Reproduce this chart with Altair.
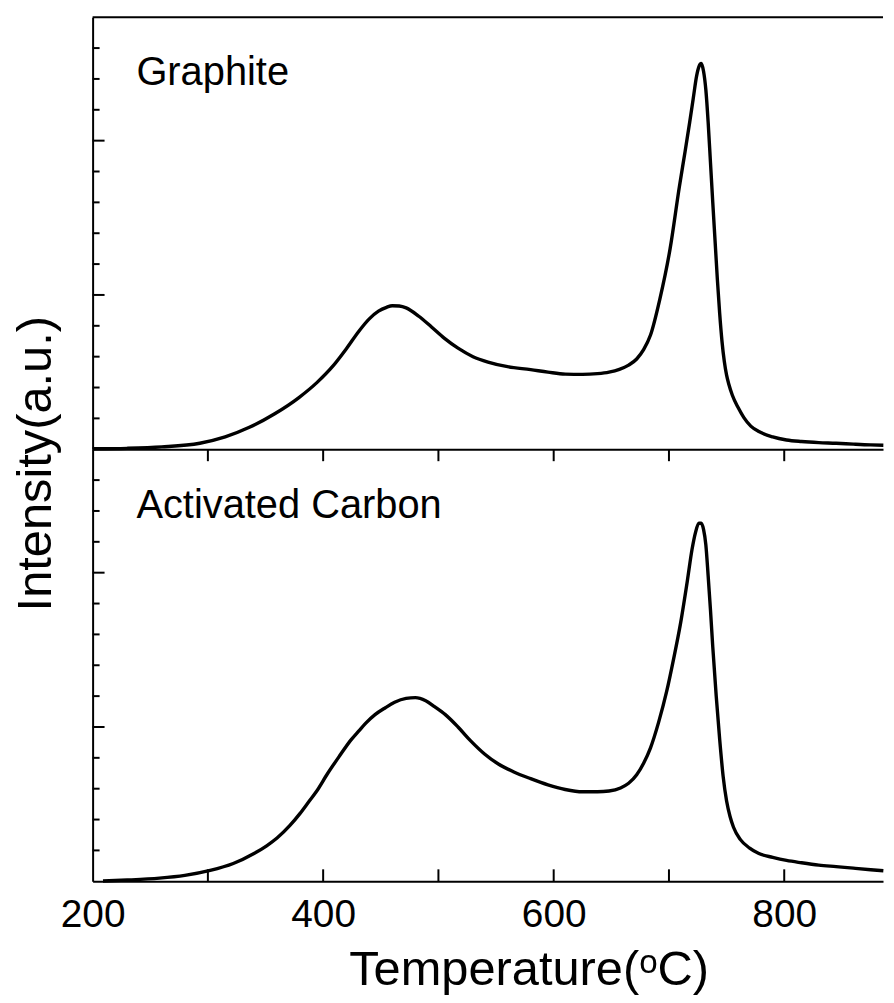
import altair as alt
import pandas as pd

# ---------------- data ----------------
T_GRAPHITE = [200, 230, 260, 293, 315, 336, 358, 379, 395, 408, 420, 431, 440, 448, 455,
              460, 466, 472, 483, 494, 505, 517, 530, 543, 560, 580, 595, 610, 625, 638,
              648, 657, 665, 672, 678, 684, 692, 701, 709, 714, 718, 721, 724, 726, 728,
              730, 732, 734, 736, 738, 740, 742, 744, 746, 748, 750, 752, 755, 760, 765,
              771, 778, 790, 802, 815, 830, 845, 860, 875, 886]
I_GRAPHITE = [0.003, 0.006, 0.015, 0.039, 0.08, 0.142, 0.23, 0.335, 0.435, 0.535, 0.65, 0.765,
              0.845, 0.895, 0.92, 0.93, 0.928, 0.916, 0.862, 0.792, 0.72, 0.655, 0.60, 0.565,
              0.535, 0.516, 0.50, 0.487, 0.485, 0.49, 0.50, 0.518, 0.545, 0.585, 0.645, 0.74,
              0.97, 1.30, 1.70, 1.93, 2.12, 2.27, 2.42, 2.48, 2.50, 2.45, 2.33, 2.12, 1.86,
              1.60, 1.35, 1.10, 0.88, 0.70, 0.57, 0.48, 0.42, 0.35, 0.27, 0.205,
              0.15, 0.115, 0.08, 0.06, 0.05, 0.043, 0.039, 0.033, 0.028, 0.026]

T_CARBON = [209, 230, 258, 280, 302, 322, 340, 351, 360, 371, 380, 388, 394, 404, 414,
            424, 431, 437, 445, 454, 462, 472, 480, 489, 497, 506, 517, 528, 540, 552,
            565, 580, 595, 610, 625, 638, 648, 658, 665, 672, 678, 684, 691, 698, 704,
            710, 716, 720, 723, 726, 728, 730, 732, 734, 736, 738, 741, 744, 747, 750,
            753, 756, 762, 770, 778, 790, 802, 815, 830, 845, 860, 875, 886]
I_CARBON = [0.002, 0.008, 0.02, 0.038, 0.07, 0.115, 0.18, 0.23, 0.28, 0.36, 0.44, 0.52,
            0.58, 0.70, 0.81, 0.915, 0.975, 1.025, 1.08, 1.125, 1.16, 1.185, 1.19, 1.17, 1.13,
            1.08, 1.00, 0.91, 0.825, 0.76, 0.71, 0.665, 0.625, 0.595, 0.58, 0.58, 0.585,
            0.605, 0.635, 0.69, 0.765, 0.865, 1.03, 1.23, 1.44, 1.67, 1.95, 2.15, 2.26, 2.32,
            2.32, 2.28, 2.18, 1.98, 1.76, 1.52, 1.20, 0.92, 0.68, 0.52, 0.42, 0.35, 0.27,
            0.215, 0.18, 0.155, 0.135, 0.12, 0.105, 0.095, 0.085, 0.075, 0.068]

PANEL_LABELS = ["Graphite", "Activated Carbon"]
LABEL_T = [238, 238]
LABEL_I = [2.36, 2.355]

X_TICKS = [300, 400, 500, 600, 700, 800]
X_LABEL_VALUES = [200, 400, 600, 800]
Y_MINOR = [0.2, 0.4, 0.6, 0.8, 1.2, 1.4, 1.6, 1.8, 2.2, 2.4, 2.6]
Y_MAJOR = [1.0, 2.0]
X_DOMAIN = [200, 885.7]
Y_DOMAIN = [0, 2.8]

X_TITLE = "Temperature(\u1d52C)"
Y_TITLE = "Intensity(a.u.)"

# ---------------- layout / style ----------------
W = 794
H = 434
FONT = "Liberation Sans"
INK = "black"

xs = alt.Scale(domain=X_DOMAIN, nice=False, zero=False)
ys = alt.Scale(domain=Y_DOMAIN, nice=False, zero=False)


def y_ticks(values, length):
    return alt.Chart(pd.DataFrame({"I": values})).mark_rule(
        color=INK, strokeWidth=2
    ).encode(
        y=alt.Y("I:Q", scale=ys),
        x=alt.value(0),
        x2=alt.value(length),
    )


def x_ticks(y0, y1):
    return alt.Chart(pd.DataFrame({"T": X_TICKS})).mark_rule(
        color=INK, strokeWidth=2
    ).encode(
        x=alt.X("T:Q", scale=xs),
        y=alt.value(y0),
        y2=alt.value(y1),
    )


def panel(t, i, k, top):
    df = pd.DataFrame({"T": t, "I": i})
    if top:
        xaxis = alt.Axis(ticks=False, labels=False, title=None, grid=False,
                         domainColor=INK, domainWidth=2)
        yaxis = alt.Axis(ticks=False, labels=False, grid=False, domainColor=INK,
                         domainWidth=2, title=Y_TITLE, titleFont=FONT,
                         titleFontSize=49, titleFontWeight="normal", titleColor=INK,
                         titleAngle=270, titleX=-42, titleY=448,
                         titleBaseline="alphabetic", titleAlign="center")
    else:
        xaxis = alt.Axis(values=X_LABEL_VALUES, ticks=False, grid=False,
                         domainColor=INK, domainWidth=2, labelFont=FONT,
                         labelFontSize=39, labelColor=INK, labelFlush=False,
                         labelOverlap=False, labelBaseline="alphabetic",
                         labelPadding=45, format="d",
                         title=X_TITLE, titleFont=FONT, titleFontSize=49,
                         titleFontWeight="normal", titleColor=INK,
                         titleX=438, titleY=104, titleBaseline="alphabetic",
                         titleAlign="center")
        yaxis = alt.Axis(ticks=False, labels=False, grid=False, domainColor=INK,
                         domainWidth=2, title=None)

    line = alt.Chart(df).mark_line(color=INK, strokeWidth=3.4, strokeJoin="round",
                                   interpolate="monotone").encode(
        x=alt.X("T:Q", scale=xs, axis=xaxis),
        y=alt.Y("I:Q", scale=ys, axis=yaxis),
    )
    lab = alt.Chart(pd.DataFrame({"T": [LABEL_T[k]], "I": [LABEL_I[k]],
                                  "name": [PANEL_LABELS[k]]})).mark_text(
        align="left", baseline="alphabetic", font=FONT, fontSize=40, color=INK
    ).encode(
        x=alt.X("T:Q", scale=xs),
        y=alt.Y("I:Q", scale=ys),
        text="name:N",
    )
    layers = [line, lab, y_ticks(Y_MINOR, 7), y_ticks(Y_MAJOR, 12)]
    if top:
        frame = alt.Chart(pd.DataFrame({"a": [0]})).mark_rule(
            color=INK, strokeWidth=2
        ).encode(x=alt.value(0), x2=alt.value(W), y=alt.value(0))
        layers.append(frame)
    else:
        layers.append(x_ticks(0, 12))
        layers.append(x_ticks(H, H - 12))
    return alt.layer(*layers).properties(width=W, height=H)


top = panel(T_GRAPHITE, I_GRAPHITE, 0, True)
bottom = panel(T_CARBON, I_CARBON, 1, False)

chart = alt.vconcat(top, bottom, spacing=0, bounds="flush").properties(
    padding={"left": 4, "top": 6, "right": 0, "bottom": 0}
).configure(background="white").configure_view(strokeWidth=0)

chart.save("out.html", embed_options={"renderer": "svg", "actions": False})
